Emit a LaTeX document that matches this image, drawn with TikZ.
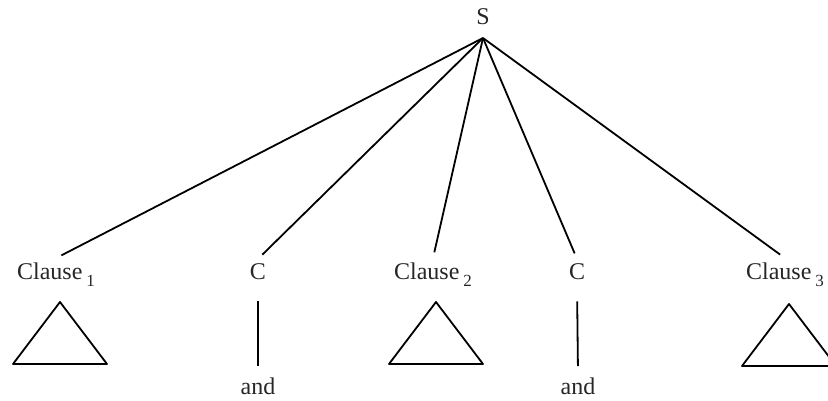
\documentclass[tikz,border=0pt]{standalone}
\usepackage{fontspec}
\setmainfont{Liberation Serif}
\usetikzlibrary{positioning,calc}
\newcommand{\lowsub}[1]{\,\raisebox{-7pt}{\fontsize{17}{20}\selectfont #1}}
\tikzset{
    every node/.style={font=\fontsize{24}{28}\selectfont},
    word/.style={anchor=base, inner sep=4pt, text=black!85},
    branch/.style={line width=1.8pt, shorten >=6pt},
    stem/.style={line width=1.8pt, shorten <=18pt, shorten >=7pt},
    roof/.pic={
        \draw[line width=1.8pt, line join=round] (0,0) -- (-47,62) -- (47,62) -- cycle;
    },
}

\begin{document}
\begin{tikzpicture}[x=1pt,y=-1pt]
    \useasboundingbox (0,0) rectangle (828,401);
    \clip (0,0) rectangle (828,401);

    % Root
    \node[word] (S) at (483,25) {S};
    \coordinate (apex) at (483,38);

    % Daughters
    \node[word] (cl1) at (56,279) {Clause\lowsub{1}};
    \node[word] (c1) at (258,279) {C};
    \node[word] (cl2) at (433,279) {Clause\lowsub{2}};
    \node[word] (c2) at (577,279) {C};
    \node[word] (cl3) at (785,279) {Clause\lowsub{3}};

    \foreach \d in {cl1,c1,cl2,c2,cl3}
        \draw[branch] (apex) -- (\d.north);

    % Conjunctions
    \node[word] (and1) at (258,394) {and};
    \node[word] (and2) at (578,394) {and};
    \draw[stem] (c1.south) -- (and1.north);
    \draw[stem] (c2.south) -- (and2.north);

    % Unexpanded clauses
    \pic at (60,302) {roof};
    \pic at (436,302) {roof};
    \pic at (789,304) {roof};
\end{tikzpicture}
\end{document}
